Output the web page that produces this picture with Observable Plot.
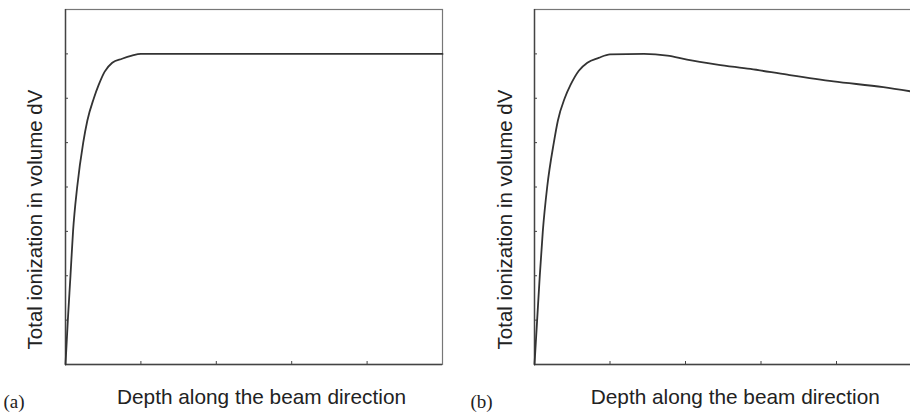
<!DOCTYPE html>
<html><head><meta charset="utf-8">
<script src="https://cdn.jsdelivr.net/npm/d3@7"></script>
<script src="https://cdn.jsdelivr.net/npm/@observablehq/plot@0.6"></script>
<style>
html,body{margin:0;padding:0;background:#fff;overflow:hidden;}
#fig{position:relative;width:910px;height:414px;overflow:hidden;background:#fff;}
#fig svg{position:absolute;top:0;background:none;}
</style></head><body><div id="fig"></div>
<script>
// Panel (a): total ionization vs depth, reaches plateau
const depthA = [0, 0.031, 0.066, 0.10, 0.155, 0.235, 0.29, 0.376, 0.44, 0.52, 0.62, 0.75, 0.88, 1.0, 5];
const ionA   = [0, 1, 2, 3, 4, 5, 5.5, 6, 6.3, 6.6, 6.8, 6.89, 6.96, 7.0, 7.0];
// Panel (b): total ionization vs depth, builds up then slowly falls
const depthB = [0, 0.035, 0.07, 0.11, 0.168, 0.256, 0.31, 0.40, 0.477, 0.587, 0.70, 0.85, 1.0, 1.45, 1.76, 2.02, 2.42, 2.86, 3.35, 3.96, 4.62, 5.0];
const ionB   = [0, 1, 2, 3, 4, 5, 5.5, 6, 6.3, 6.62, 6.8, 6.91, 6.99, 7.0, 6.96, 6.87, 6.76, 6.66, 6.53, 6.38, 6.25, 6.15];
const xTicks = [1, 2, 3, 4];
const yTicks = [1, 2, 3, 4, 5, 6, 7];
const xLabel = "Depth along the beam direction";
const yLabel = "Total ionization in volume dV";
const panelLabels = ["(a)", "(b)"];

const sans = "'Liberation Sans', Arial, Helvetica, sans-serif";
const serif = "'Liberation Serif', 'Times New Roman', serif";

function panel(depth, ion, cfg) {
  const data = depth.map((d, i) => ({depth: d, ion: ion[i]}));
  return Plot.plot({
    width: cfg.width, height: 414,
    marginLeft: cfg.ml, marginRight: cfg.mr, marginTop: 9, marginBottom: 50,
    x: {domain: [0, 5]},
    y: {domain: [0, 8]},
    style: {background: "none", overflow: "visible"},
    marks: [
      Plot.frame({stroke: "#777", strokeWidth: 1.2}),
      Plot.ruleX([0], {stroke: "#444", strokeWidth: 1.4}),
      Plot.ruleY([0], {stroke: "#444", strokeWidth: 1.4}),
      Plot.axisX({ticks: xTicks, tickSize: -3, tickFormat: () => "", stroke: "#444", label: null}),
      Plot.axisY({ticks: yTicks, tickSize: -3, tickFormat: () => "", stroke: "#444", label: null}),
      Plot.line(data, {x: "depth", y: "ion", curve: "monotone-x", stroke: "#333", strokeWidth: 1.8}),
      Plot.text([xLabel], {frameAnchor: "bottom", dx: cfg.xdx, dy: 39, lineAnchor: "bottom", textAnchor: "middle",
        fontFamily: sans, fontSize: 20.8, fill: "#222"}),
      Plot.text([yLabel], {frameAnchor: "left", rotate: -90, dx: cfg.ydx, dy: 32.5, lineAnchor: "bottom", textAnchor: "middle",
        fontFamily: sans, fontSize: 20.5, fill: "#222"}),
      Plot.text([cfg.tag], {frameAnchor: "bottom-left", dx: cfg.tdx, dy: 43, lineAnchor: "bottom", textAnchor: "start",
        fontFamily: serif, fontSize: 19, fill: "#222"})
    ]
  });
}

const fig = document.getElementById("fig");
const a = panel(depthA, ionA, {width: 455, ml: 65, mr: 13, xdx: 7.5, ydx: -23.5, tdx: -62, tag: panelLabels[0]});
a.style.left = "0px";
fig.appendChild(a);
const b = panel(depthB, ionB, {width: 460, ml: 79, mr: 3.5, xdx: 12, ydx: -22.5, tdx: -64, tag: panelLabels[1]});
b.style.left = "455px";
fig.appendChild(b);
</script></body></html>
